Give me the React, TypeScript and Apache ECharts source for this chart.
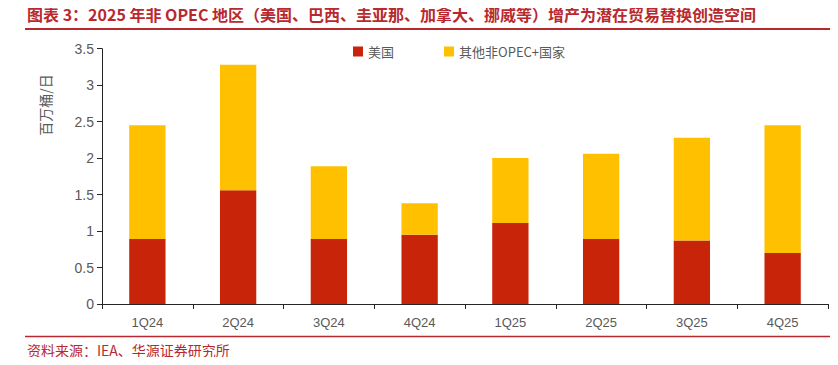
import React, { useEffect, useRef } from "react";
import * as echarts from "echarts";

const categories = ["1Q24", "2Q24", "3Q24", "4Q24", "1Q25", "2Q25", "3Q25", "4Q25"];
const usValues = [0.89, 1.56, 0.89, 0.95, 1.11, 0.89, 0.87, 0.7];
const otherValues = [1.56, 1.72, 1.0, 0.43, 0.89, 1.17, 1.41, 1.75];
const seriesNames = ["美国", "其他非OPEC+国家"];
const titleText = "图表 3：2025 年非 OPEC 地区（美国、巴西、圭亚那、加拿大、挪威等）增产为潜在贸易替换创造空间";
const sourceText = "资料来源：IEA、华源证券研究所";
const yAxisName = "百万桶/日";

export default function App() {
  const ref = useRef<HTMLDivElement>(null);
  useEffect(() => {
    if (!ref.current) return;
    const chart = echarts.init(ref.current, undefined, { renderer: "svg" });
    const red = "#C8240A";
    const yellow = "#FFC000";
    const titleRed = "#B8292F";
    chart.setOption({
      animation: false,
      backgroundColor: "#fff",
      textStyle: { fontFamily: "'Noto Sans CJK SC', 'Noto Sans', sans-serif" },
      grid: { left: 102, right: 10, top: 48.7, bottom: 61, containLabel: false },
      legend: {
        data: seriesNames,
        left: 348,
        top: 40,
        itemWidth: 10,
        itemHeight: 10,
        itemGap: 50,
        icon: "rect",
        textStyle: { color: "#595959", fontSize: 13, fontFamily: "'Noto Sans CJK SC', sans-serif" },
      },
      xAxis: {
        type: "category",
        data: categories,
        axisLine: { lineStyle: { color: "#262626", width: 1 } },
        axisTick: { show: true, length: 5, lineStyle: { color: "#262626" } },
        axisLabel: { color: "#595959", fontSize: 13, margin: 12, fontFamily: "Arial, 'Liberation Sans', sans-serif" },
      },
      yAxis: {
        type: "value",
        min: 0,
        max: 3.5,
        interval: 0.5,
        axisLine: { show: true, lineStyle: { color: "#262626", width: 1 } },
        axisTick: { show: true, length: 5, inside: false, lineStyle: { color: "#262626" } },
        axisLabel: { color: "#595959", fontSize: 14, margin: 8, fontFamily: "Arial, 'Liberation Sans', sans-serif" },
        splitLine: { show: false },
      },
      series: [
        {
          name: seriesNames[0],
          type: "bar",
          stack: "total",
          barWidth: "40%",
          data: usValues,
          itemStyle: { color: red },
        },
        {
          name: seriesNames[1],
          type: "bar",
          stack: "total",
          barWidth: "40%",
          data: otherValues,
          itemStyle: { color: yellow },
        },
      ],
      graphic: [
        {
          type: "text",
          left: 27,
          top: 6,
          style: {
            text: titleText,
            fill: titleRed,
            fontSize: 16,
            fontWeight: "bold",
            fontFamily: "'Noto Sans CJK SC', sans-serif",
          },
        },
        {
          type: "line",
          shape: { x1: 25, y1: 29, x2: 838, y2: 29 },
          style: { stroke: titleRed, lineWidth: 2 },
        },
        {
          type: "text",
          x: 45,
          y: 105,
          rotation: Math.PI / 2,
          style: {
            text: yAxisName,
            fill: "#595959",
            fontSize: 14,
            align: "center",
            verticalAlign: "middle",
            fontFamily: "'Noto Sans CJK SC', sans-serif",
          },
        },
        {
          type: "line",
          shape: { x1: 25, y1: 336.5, x2: 838, y2: 336.5 },
          style: { stroke: titleRed, lineWidth: 1.5 },
        },
        {
          type: "text",
          left: 27,
          top: 343,
          style: {
            text: sourceText,
            fill: titleRed,
            fontSize: 14,
            fontFamily: "'Noto Sans CJK SC', sans-serif",
          },
        },
      ],
    });
    return () => chart.dispose();
  }, []);
  return <div ref={ref} style={{ width: 838, height: 365, margin: -8 }} />;
}
